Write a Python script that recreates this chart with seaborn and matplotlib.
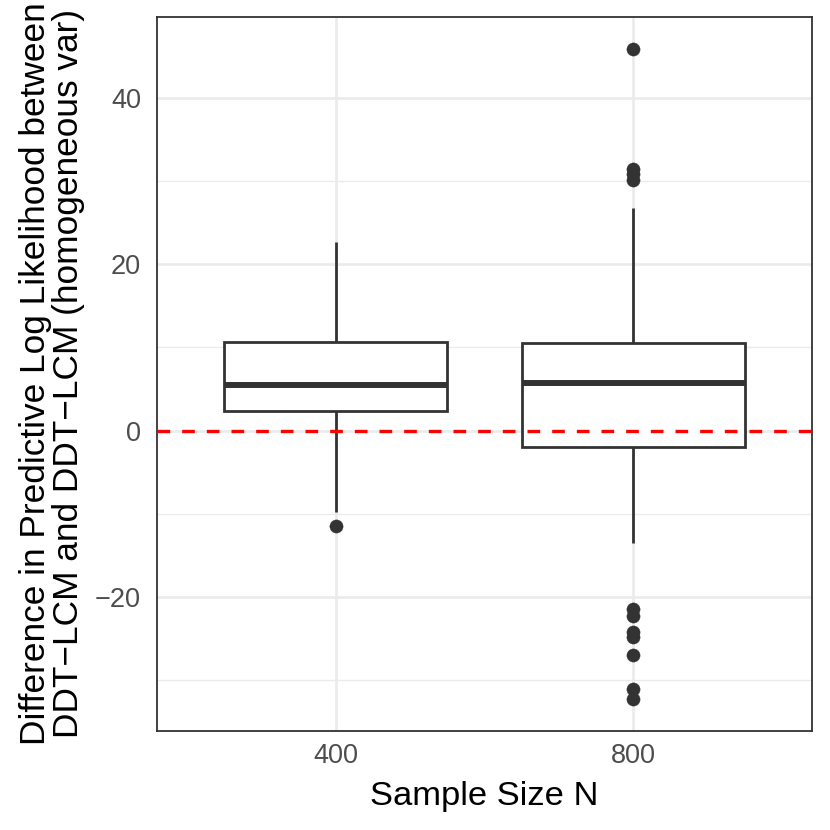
import pandas as pd
import seaborn as sns
import matplotlib.pyplot as plt
from matplotlib.ticker import MultipleLocator

# values (one list per sample size)
sample_sizes = ['400', '800']
diff_400 = [-11.45, -9.72, 2.31, 4.0, 5.50, 8.0, 10.68, 15.0, 22.64]
diff_800 = [-32.18, -31.06, -27.0, -24.76, -24.16, -22.21, -21.41, -13.55,
            -1.91, -0.8, 0.5, 1.6, 2.4, 3.3, 4.2, 5.0,
            5.74, 6.5, 7.1, 7.9, 8.4, 9.0, 9.6, 10.1,
            10.53, 13.2, 17.5, 21.0, 26.76, 30.14, 30.80, 31.46, 45.78]

df = pd.DataFrame({
    'N': ['400'] * len(diff_400) + ['800'] * len(diff_800),
    'diff': diff_400 + diff_800,
})

sns.set_style('white')
plt.rcParams['font.family'] = ['Liberation Sans', 'DejaVu Sans']

fig = plt.figure(figsize=(8.3, 8.3), dpi=100)
ax = fig.add_axes([157 / 830, 1 - 731 / 830, (812 - 157) / 830, (731 - 17) / 830])

dark = '#333333'
sns.boxplot(data=df, x='N', y='diff', order=sample_sizes, ax=ax,
            color='white', linecolor=dark, linewidth=2.0, width=0.75,
            showcaps=False, fliersize=9.5,
            flierprops=dict(marker='o', markerfacecolor=dark,
                            markeredgecolor=dark, markeredgewidth=0.3),
            medianprops=dict(linewidth=4.3, color=dark),
            zorder=2)

ax.axhline(0, color='red', linestyle=(0, (3.8, 3.6)), linewidth=2.4, zorder=3)

# ggplot-like expansion of the y range
lo, hi = df['diff'].min(), df['diff'].max()
pad = 0.05 * (hi - lo)
ax.set_ylim(lo - pad, hi + pad)
ax.set_xlim(-0.6, 1.6)

ax.yaxis.set_major_locator(MultipleLocator(20))
ax.yaxis.set_minor_locator(MultipleLocator(10))
ax.set_axisbelow(True)
ax.grid(True, which='major', color='#EBEBEB', linewidth=1.9)
ax.grid(True, which='minor', axis='y', color='#EBEBEB', linewidth=1.0)

for s in ax.spines.values():
    s.set_color(dark)
    s.set_linewidth(1.3)

ax.tick_params(axis='both', which='major', length=5.5, width=1.3, color=dark,
               labelsize=19.5, labelcolor='#4D4D4D', pad=3)
ax.tick_params(axis='y', which='major', pad=6)
ax.tick_params(axis='y', which='minor', length=0)

ax.set_xlabel('Sample Size N', fontsize=24.8, color='black', labelpad=9)
ax.set_ylabel('Difference in Predictive Log Likelihood between\n'
              'DDT\u2212LCM and DDT\u2212LCM (homogeneous var)',
              fontsize=25.4, color='black', linespacing=1.0, labelpad=7)

fig.savefig('out.png', dpi=100)
